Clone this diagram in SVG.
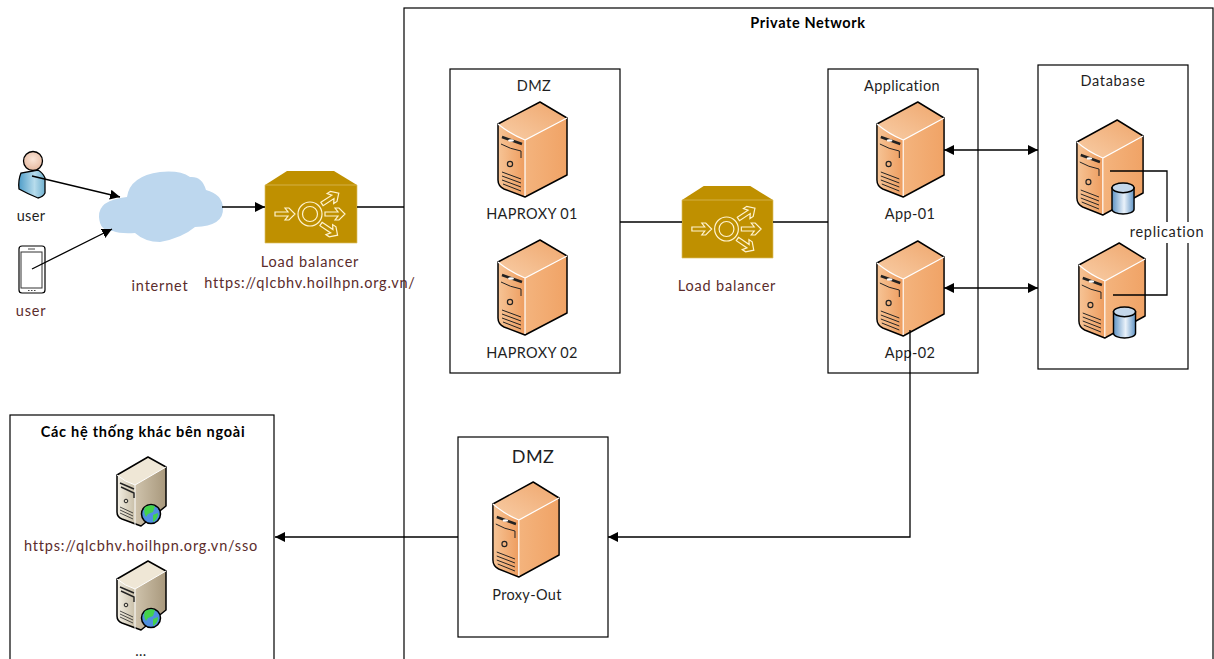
<svg xmlns="http://www.w3.org/2000/svg" width="1214" height="659" viewBox="0 0 1214 659">
<style>
text{font-family:"Lato","Carlito","Open Sans",sans-serif;font-size:14.5px;fill:#1f1f1f;text-anchor:middle;letter-spacing:.35px}
.b{font-weight:700;font-size:14.5px;fill:#000;letter-spacing:.6px}
.b2{letter-spacing:.74px}
.r{fill:#5b2c2c;letter-spacing:.8px}
.w{letter-spacing:.7px}
.box{fill:#fff;stroke:#000;stroke-width:1.2}
.c{fill:none;stroke:#000;stroke-width:1.3}
.o{stroke:#000;stroke-width:1.5;stroke-linejoin:round}
.la{fill:#bf9000;stroke:#fff3cf;stroke-width:1.2;stroke-linejoin:miter}
</style>
<defs>
<marker id="ah" viewBox="0 0 10 10" refX="10" refY="5" markerWidth="10" markerHeight="10" markerUnits="userSpaceOnUse" orient="auto-start-reverse"><path d="M0 0L10 5L0 10Z" fill="#000"/></marker>
<linearGradient id="of" x1="0" y1="0" x2="1" y2="0"><stop offset="0" stop-color="#f6c496"/><stop offset="1" stop-color="#ee9d5f"/></linearGradient>
<linearGradient id="os" x1="0" y1="0" x2="1" y2="0"><stop offset="0" stop-color="#f6be8c"/><stop offset="1" stop-color="#f0a366"/></linearGradient>
<linearGradient id="ot" x1="0" y1="1" x2="1" y2="0"><stop offset="0" stop-color="#f8cda6"/><stop offset="1" stop-color="#efa66c"/></linearGradient>
<linearGradient id="bf" x1="0" y1="0" x2="1" y2="0"><stop offset="0" stop-color="#f3efe4"/><stop offset="1" stop-color="#c9bfa8"/></linearGradient>
<linearGradient id="bs" x1="0" y1="0" x2="1" y2="0"><stop offset="0" stop-color="#e6dcc8"/><stop offset="1" stop-color="#a8987c"/></linearGradient>
<linearGradient id="cy" x1="0" y1="0" x2="1" y2="0"><stop offset="0" stop-color="#5f93c4"/><stop offset=".55" stop-color="#eaf2fa"/><stop offset="1" stop-color="#5f93c4"/></linearGradient>
<linearGradient id="pb" x1="0" y1="0" x2="1" y2="0"><stop offset="0" stop-color="#4f9dc8"/><stop offset=".6" stop-color="#b7dcec"/><stop offset="1" stop-color="#6fb0cf"/></linearGradient>
<radialGradient id="sk" cx=".5" cy=".4" r=".6"><stop offset="0" stop-color="#fbe6d8"/><stop offset="1" stop-color="#e6b9a0"/></radialGradient>
<symbol id="srv" viewBox="-2 -2 73 99" preserveAspectRatio="none" overflow="visible">
<path d="M0 22L42 0L69 16V73L27 95L6 87Q0 84 0 78Z" fill="url(#os)"/>
<path d="M0 22Q12 32 27 38L69 16L42 0Z" fill="url(#ot)"/>
<path d="M0 22Q12 32 27 38V95L6 87Q0 84 0 78Z" fill="url(#of)"/>
<path class="o" d="M0 22L42 0L69 16V73L27 95L6 87Q0 84 0 78Z" fill="none"/>
<path d="M0 22Q12 32 27 38L69 16M27 38V94" fill="none" stroke="#fff" stroke-width="1.2"/>
<path d="M4 35L24 42" stroke="#222" stroke-width="2.6"/><ellipse cx="13" cy="38.500" rx="3" ry="1.3" fill="#fff"/>
<path d="M3 42Q12 47 23 49V56" fill="none" stroke="#222" stroke-width="1"/>
<circle cx="12" cy="62" r="2.6" fill="none" stroke="#222" stroke-width="1.2"/>
<path d="M4 70L23 77M4 74L23 81M4 78L23 85M5 82L23 89" stroke="#222" stroke-width="1"/>
</symbol>
<symbol id="bsv" viewBox="-2 -2 53 73" preserveAspectRatio="none" overflow="visible">
<path d="M0 18L31 0L49 10V49L24 69L5 62Q0 60 0 55Z" fill="url(#bs)"/>
<path d="M0 18Q8 25 18 28L49 10L31 0Z" fill="#efe7d6"/>
<path d="M0 18Q8 25 18 28V68L5 62Q0 60 0 55Z" fill="url(#bf)"/>
<path class="o" d="M0 18L31 0L49 10V49L24 69L5 62Q0 60 0 55Z" fill="none"/>
<path d="M0 18Q8 25 18 28L49 10M18 28V68" fill="none" stroke="#fff" stroke-width="1"/>
<path d="M3 26L17 32M4 30L17 36V41" fill="none" stroke="#222" stroke-width="1.4"/>
<circle cx="9" cy="44" r="1.8" fill="none" stroke="#222"/>
<path d="M3 50L16 56M3 53L16 59M3 56L16 62" stroke="#222" stroke-width=".8"/>
<circle cx="34" cy="57" r="9.500" fill="#4f8fe0" stroke="#000" stroke-width="1.5"/>
<path d="M28 50Q33 47 38 49L36 55L31 57L29 60Q26 55 28 50ZM36 58L41 56Q41 62 36 65Z" fill="#44d24a"/>
</symbol>
<path id="ar" class="la" d="M0 -2H13L10 -6H14L20 0L14 6H10L13 2H0Z"/>
<symbol id="lb" viewBox="0 0 92 72" preserveAspectRatio="none" overflow="visible">
<path d="M22 0H69L92 14V72H0V14Z" fill="#bf9000"/>
<path d="M0 14H92V72H0Z" fill="none" stroke="#dcc064" stroke-width=".7"/>
<circle cx="45" cy="43" r="12" fill="none" stroke="#fff3cf" stroke-width="1.2"/>
<circle cx="45" cy="43" r="7.500" fill="none" stroke="#fff3cf" stroke-width="1.2"/>
<use href="#ar" transform="translate(10 43)"/>
<use href="#ar" transform="translate(60 43)"/>
<use href="#ar" transform="translate(57 33) rotate(-33)"/>
<use href="#ar" transform="translate(56 53) rotate(34)"/>
</symbol>
<symbol id="cyl" viewBox="0 0 24 32" preserveAspectRatio="none" overflow="visible">
<path d="M0 5V27A11.500 5 0 0 0 23 27V5Z" fill="url(#cy)" stroke="#000" stroke-width="1.5"/>
<ellipse cx="11.500" cy="5" rx="11.500" ry="5" fill="#c4d7ea" stroke="#000" stroke-width="1.5"/>
</symbol>
</defs>
<rect width="1214" height="659" fill="#fff"/>
<g id="private-network"><rect class="box" x="404" y="8" width="809" height="660"/><text class="b" x="808" y="28">Private Network</text></g>
<g id="dmz-box"><rect class="box" x="450" y="69" width="170" height="304"/><text x="534" y="91">DMZ</text></g>
<g id="application-box"><rect class="box" x="828" y="69" width="150" height="304"/><text x="902" y="91">Application</text></g>
<g id="database-box"><rect class="box" x="1038" y="65" width="150" height="304"/><text class="w" x="1113" y="86">Database</text></g>
<g id="dmz-out-box"><rect class="box" x="458" y="437" width="150" height="200"/><text x="533" y="463" style="font-size:18px">DMZ</text></g>
<g id="external-box"><rect class="box" x="10" y="415" width="264" height="260"/><text class="b b2" x="143" y="437">Các hệ thống khác bên ngoài</text></g>
<g id="user-person">
<path d="M21 173Q18 180 19 189Q28 194 38 198Q43 197 45 193V178Q43 173 38 170Z" fill="url(#pb)" stroke="#000" stroke-width="1.3"/>
<circle cx="33" cy="161" r="9.500" fill="url(#sk)" stroke="#000" stroke-width="1.3"/>
<text x="31" y="221">user</text></g>
<g id="user-phone">
<rect x="19" y="246" width="26" height="47" rx="3" fill="#fff" stroke="#000" stroke-width="1.2"/>
<rect x="21" y="252" width="21" height="36" fill="#fff" stroke="#333" stroke-width="1"/>
<path d="M28 290.500h1.500M31 290.500h1.500M34 290.500h1.500M28 249h7" stroke="#444"/>
<text class="r" x="31" y="316">user</text></g>
<g id="internet">
<path d="M99 217Q98 200 127 197Q130 176 160 172Q180 170 190 177Q202 176 206 190Q222 194 223 208Q224 226 195 227Q182 238 160 242Q145 242 135 233Q120 234 113 231Q100 232 99 217Z" fill="#bdd7ee"/>
<text class="r" x="160" y="291">internet</text></g>
<g id="load-balancer-1"><use href="#lb" x="265" y="171" width="92" height="72"/><text class="r" x="310" y="267">Load balancer</text><text class="r" x="310" y="288">https://qlcbhv.hoilhpn.org.vn/</text></g>
<g id="haproxy-01"><use href="#srv" x="496" y="100" width="73" height="99"/><text x="532" y="219">HAPROXY 01</text></g>
<g id="haproxy-02"><use href="#srv" x="496" y="238" width="73" height="99"/><text x="532" y="358">HAPROXY 02</text></g>
<g id="load-balancer-2"><use href="#lb" x="682" y="186" width="91" height="72"/><text class="r" x="727" y="291">Load balancer</text></g>
<g id="app-01"><use href="#srv" x="875" y="100" width="71" height="99"/><text x="910" y="219">App-01</text></g>
<g id="app-02"><use href="#srv" x="875" y="239" width="71" height="99"/><text x="910" y="358">App-02</text></g>
<g id="db-1"><use href="#srv" x="1075" y="118" width="70" height="99"/></g>
<g id="db-2"><use href="#srv" x="1077" y="241" width="70" height="99"/></g>
<g id="replication">
<path class="c" d="M1110 171H1167V295H1113"/>
<rect x="1130" y="222" width="74" height="21" fill="#fff"/>
<text class="w" x="1167" y="237">replication</text></g>
<use href="#cyl" x="1112" y="183" width="23" height="31"/>
<use href="#cyl" x="1113.500" y="307" width="23" height="31"/>
<g id="proxy-out"><use href="#srv" x="491" y="480" width="70" height="99"/><text x="527" y="600">Proxy-Out</text></g>
<g id="sso-server"><use href="#bsv" x="115" y="455" width="53" height="73"/><text class="r" x="141" y="551">https://qlcbhv.hoilhpn.org.vn/sso</text></g>
<g id="other-server"><use href="#bsv" x="115" y="559" width="53" height="73"/><text x="141" y="656">...</text></g>
<g id="connectors">
<path class="c" d="M32 176L120 197" marker-end="url(#ah)"/>
<path class="c" d="M32 269L112 229" marker-end="url(#ah)"/>
<path class="c" d="M222 207H265" marker-end="url(#ah)"/>
<path class="c" d="M357 207H404"/>
<path class="c" d="M620 222H682"/>
<path class="c" d="M773 222H828"/>
<path class="c" d="M944 150H1038" marker-start="url(#ah)" marker-end="url(#ah)"/>
<path class="c" d="M944 288H1038" marker-start="url(#ah)" marker-end="url(#ah)"/>
<path class="c" d="M910 330V537H608" marker-end="url(#ah)"/>
<path class="c" d="M458 537H275" marker-end="url(#ah)"/>
</g>
</svg>
